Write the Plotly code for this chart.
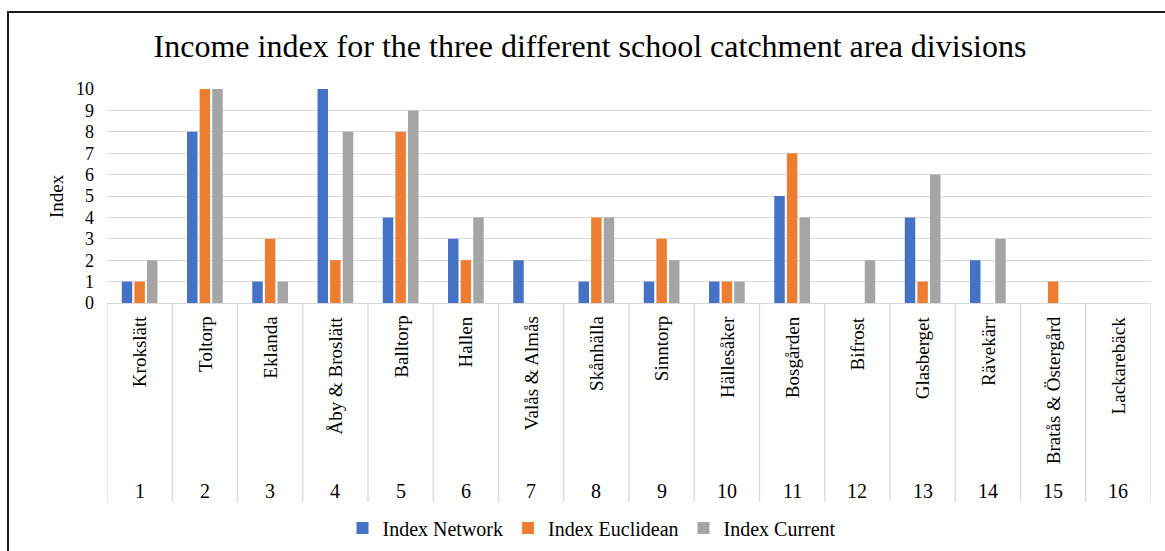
import plotly.graph_objects as go

numbers = [str(i) for i in range(1, 17)]
names = ["Krokslätt", "Toltorp", "Eklanda", "Åby & Broslätt", "Balltorp", "Hallen",
         "Valås & Almås", "Skånhälla", "Sinntorp", "Hällesåker", "Bosgården", "Bifrost",
         "Glasberget", "Rävekärr", "Bratås & Östergård", "Lackarebäck"]
index_network = [1, 8, 1, 10, 4, 3, 2, 1, 1, 1, 5, 0, 4, 2, 0, 0]
index_euclidean = [1, 10, 3, 2, 8, 2, 0, 4, 3, 1, 7, 0, 1, 0, 1, 0]
index_current = [2, 10, 1, 8, 9, 4, 0, 4, 2, 1, 4, 2, 6, 3, 0, 0]

W, H = 1165, 551
L, R, T, B = 107, 14, 89, 248
PW = W - L - R
PH = H - T - B
def py(pix):  # pixel y -> paper y
    return (H - B - pix) / PH
def px(pix):
    return (pix - L) / PW

FONT = "Liberation Serif"
fig = go.Figure()
for nm, vals, col in [("Index Network", index_network, "#4472C4"),
                      ("Index Euclidean", index_euclidean, "#ED7D31"),
                      ("Index Current", index_current, "#A5A5A5")]:
    fig.add_trace(go.Bar(x=numbers, y=vals, name=nm, marker=dict(color=col, line=dict(width=0))))

shapes = []
for i in range(17):
    shapes.append(dict(type="line", xref="x", yref="paper", x0=i - 0.5, x1=i - 0.5,
                       y0=0, y1=py(502), line=dict(color="#D9D9D9", width=1.3)))
shapes.append(dict(type="rect", xref="paper", yref="paper", x0=px(8), x1=px(1170),
                   y0=py(12), y1=py(560), line=dict(color="#1a1a1a", width=2)))

annotations = []
for i, (n, c) in enumerate(zip(numbers, names)):
    annotations.append(dict(x=i, xref="x", y=py(314), yref="paper", text=c, textangle=-90,
                            showarrow=False, yanchor="top", xanchor="center",
                            font=dict(family=FONT, size=19, color="#000")))
    annotations.append(dict(x=i, xref="x", y=py(491), yref="paper", text=n,
                            showarrow=False, yanchor="middle", xanchor="center",
                            font=dict(family=FONT, size=20, color="#000")))
annotations.append(dict(x=px(56), xref="paper", y=py(196), yref="paper", text="Index",
                        textangle=-90, showarrow=False, xanchor="center", yanchor="middle",
                        font=dict(family=FONT, size=19, color="#000")))

fig.update_layout(
    width=W, height=H,
    font=dict(family=FONT, color="#000"),
    margin=dict(l=L, r=R, t=T, b=B, autoexpand=False),
    paper_bgcolor="white", plot_bgcolor="white",
    title=dict(text="Income index for the three different school catchment area divisions",
               x=590 / W, xref="container", xanchor="center",
               y=1 - 46 / H, yref="container", yanchor="middle",
               font=dict(family=FONT, size=32, color="#000")),
    barmode="group", bargap=0.42, bargroupgap=0.17,
    xaxis=dict(type="category", showticklabels=False, showgrid=False, showline=False,
               zeroline=False, range=[-0.5, 15.5], fixedrange=True),
    yaxis=dict(range=[0, 10], dtick=1, showgrid=True, gridcolor="#D9D9D9", gridwidth=1.3,
               zeroline=True, zerolinecolor="#D9D9D9", zerolinewidth=1.3, showline=False,
               ticks="", ticklabelstandoff=12,
               tickfont=dict(family=FONT, size=18, color="#000")),
    legend=dict(orientation="h", xref="container", yref="container", x=592 / W, y=1 - 528 / H,
                xanchor="center", yanchor="middle", font=dict(family=FONT, size=20, color="#000"),
                itemwidth=30, tracegroupgap=0),
    shapes=shapes, annotations=annotations, showlegend=True,
)
fig.write_html("out.html")
